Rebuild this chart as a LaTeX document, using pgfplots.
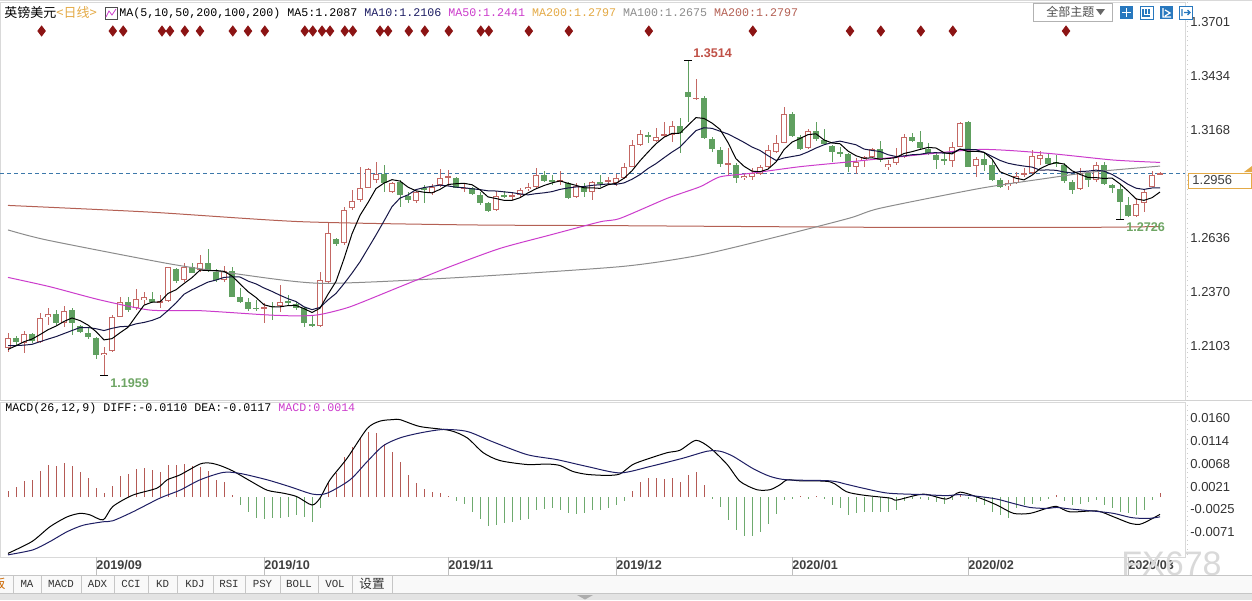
\documentclass[border=0pt]{standalone}
\usepackage{fontspec}
\setmainfont{Liberation Sans}
\setsansfont{Liberation Sans}
\setmonofont{Liberation Mono}
\newfontfamily\cjk{Noto Sans CJK SC}
\usepackage{pgfplots}
\pgfplotsset{compat=1.18}
\usepackage{pgfplotstable}

\definecolor{upc}{RGB}{196,104,100}
\definecolor{dnc}{RGB}{96,160,96}
\definecolor{macdr}{RGB}{180,90,85}
\definecolor{macdg}{RGB}{110,170,110}
\definecolor{ma50}{RGB}{204,60,204}
\definecolor{ma100}{RGB}{140,140,140}
\definecolor{ma200}{RGB}{180,96,84}
\definecolor{gold}{RGB}{228,170,70}
\definecolor{navy}{RGB}{30,30,100}
\definecolor{pricel}{RGB}{60,120,170}
\definecolor{hilab}{RGB}{192,80,70}
\definecolor{lolab}{RGB}{110,165,100}
\definecolor{diam}{RGB}{140,20,20}
\definecolor{tbblue}{RGB}{40,120,190}

% daily candles, x = trading day index (0 = 2019-08-19)
\pgfplotstableread{
i o h l c
0 1.2094 1.2168 1.2074 1.2143
2 1.2120 1.2179 1.2069 1.2163
4 1.2125 1.2265 1.2117 1.2240
5 1.2245 1.2290 1.2207 1.2262
7 1.2216 1.2302 1.2199 1.2278
12 1.2059 1.2100 1.1959 1.2071
13 1.2079 1.2257 1.2076 1.2245
14 1.2248 1.2347 1.2245 1.2322
16 1.2290 1.2383 1.2281 1.2335
17 1.2331 1.2371 1.2306 1.2344
19 1.2319 1.2355 1.2290 1.2326
20 1.2327 1.2495 1.2322 1.2492
22 1.2429 1.2511 1.2421 1.2495
24 1.2478 1.2552 1.2470 1.2514
27 1.2429 1.2498 1.2421 1.2475
32 1.2286 1.2314 1.2216 1.2295
34 1.2302 1.2404 1.2273 1.2322
39 1.2202 1.2470 1.2197 1.2429
40 1.2421 1.2709 1.2413 1.2659
42 1.2610 1.2790 1.2601 1.2774
43 1.2783 1.2873 1.2774 1.2820
44 1.2824 1.2988 1.2815 1.2881
45 1.2884 1.2982 1.2881 1.2976
46 1.2922 1.3012 1.2907 1.2950
48 1.2864 1.2914 1.2856 1.2906
51 1.2820 1.2868 1.2807 1.2861
53 1.2857 1.2901 1.2848 1.2889
54 1.2897 1.2976 1.2889 1.2933
55 1.2933 1.2971 1.2894 1.2942
57 1.2878 1.2906 1.2864 1.2884
61 1.2774 1.2868 1.2771 1.2845
63 1.2840 1.2864 1.2824 1.2848
64 1.2848 1.2881 1.2840 1.2873
65 1.2878 1.2906 1.2868 1.2889
66 1.2889 1.2980 1.2884 1.2947
69 1.2914 1.2967 1.2897 1.2921
71 1.2840 1.2906 1.2835 1.2894
73 1.2864 1.2917 1.2824 1.2911
75 1.2914 1.2938 1.2897 1.2922
76 1.2906 1.2950 1.2893 1.2930
77 1.2930 1.3004 1.2926 1.2988
78 1.2988 1.3119 1.2985 1.3095
79 1.3095 1.3169 1.3090 1.3149
81 1.3116 1.3177 1.3111 1.3136
82 1.3139 1.3209 1.3136 1.3149
83 1.3144 1.3214 1.3111 1.3188
86 1.3325 1.3419 1.3317 1.3328
90 1.2996 1.3078 1.2947 1.3004
92 1.2930 1.2955 1.2922 1.2942
93 1.2935 1.2980 1.2922 1.2955
94 1.2952 1.2996 1.2947 1.2985
95 1.2988 1.3095 1.2980 1.3070
96 1.3062 1.3144 1.3055 1.3103
97 1.3106 1.3281 1.3103 1.3248
100 1.3078 1.3172 1.3074 1.3165
106 1.2985 1.3029 1.2952 1.3012
107 1.3021 1.3040 1.2988 1.3034
108 1.3034 1.3078 1.3029 1.3074
110 1.2985 1.3021 1.2971 1.3001
111 1.3004 1.3078 1.2996 1.3037
112 1.3037 1.3149 1.3029 1.3133
118 1.3017 1.3111 1.2988 1.3083
119 1.3086 1.3209 1.3083 1.3202
121 1.2991 1.3037 1.2938 1.3024
125 1.2891 1.2922 1.2873 1.2908
126 1.2908 1.2963 1.2902 1.2942
127 1.2945 1.2980 1.2938 1.2955
128 1.2955 1.3070 1.2952 1.3040
129 1.3024 1.3066 1.2996 1.3045
134 1.2877 1.2980 1.2873 1.2958
136 1.2922 1.3012 1.2914 1.2996
141 1.2745 1.2832 1.2741 1.2804
142 1.2807 1.2873 1.2767 1.2864
143 1.2889 1.2968 1.2886 1.2947
144 1.2950 1.2962 1.2945 1.2956
}\upcandles

\pgfplotstableread{
i o h l c
1 1.2143 1.2153 1.2104 1.2125
3 1.2163 1.2169 1.2119 1.2130
6 1.2262 1.2281 1.2207 1.2216
8 1.2281 1.2290 1.2158 1.2216
9 1.2202 1.2207 1.2166 1.2174
10 1.2169 1.2195 1.2137 1.2150
11 1.2142 1.2150 1.2038 1.2059
15 1.2322 1.2344 1.2273 1.2281
18 1.2335 1.2371 1.2314 1.2319
21 1.2482 1.2487 1.2413 1.2426
23 1.2495 1.2511 1.2462 1.2465
25 1.2514 1.2580 1.2470 1.2478
26 1.2470 1.2482 1.2421 1.2429
28 1.2475 1.2495 1.2344 1.2347
29 1.2344 1.2388 1.2314 1.2322
30 1.2322 1.2339 1.2278 1.2285
31 1.2293 1.2331 1.2278 1.2285
33 1.2302 1.2322 1.2232 1.2297
35 1.2327 1.2355 1.2306 1.2314
36 1.2311 1.2322 1.2281 1.2290
37 1.2290 1.2297 1.2196 1.2216
38 1.2212 1.2257 1.2199 1.2202
41 1.2631 1.2636 1.2596 1.2605
47 1.2950 1.2996 1.2864 1.2906
49 1.2911 1.2922 1.2791 1.2848
50 1.2845 1.2864 1.2807 1.2824
52 1.2881 1.2897 1.2807 1.2873
56 1.2930 1.2938 1.2881 1.2884
58 1.2881 1.2889 1.2848 1.2851
59 1.2848 1.2864 1.2799 1.2807
60 1.2807 1.2815 1.2766 1.2769
62 1.2848 1.2868 1.2832 1.2840
67 1.2947 1.2967 1.2911 1.2917
68 1.2922 1.2947 1.2897 1.2914
70 1.2906 1.2914 1.2829 1.2832
72 1.2889 1.2906 1.2840 1.2861
74 1.2914 1.2947 1.2889 1.2906
80 1.3144 1.3160 1.3103 1.3136
84 1.3188 1.3226 1.3054 1.3156
85 1.3357 1.3514 1.3209 1.3330
87 1.3325 1.3336 1.3123 1.3128
88 1.3123 1.3133 1.3062 1.3074
89 1.3070 1.3086 1.2988 1.3001
91 1.2996 1.3004 1.2909 1.2930
98 1.3248 1.3259 1.3133 1.3139
99 1.3136 1.3144 1.3070 1.3074
101 1.3165 1.3209 1.3116 1.3123
102 1.3119 1.3172 1.3095 1.3099
103 1.3090 1.3095 1.3012 1.3062
104 1.3062 1.3086 1.3037 1.3054
105 1.3050 1.3054 1.2963 1.2985
109 1.3074 1.3116 1.3012 1.3021
113 1.3133 1.3152 1.3111 1.3116
114 1.3111 1.3165 1.3074 1.3078
115 1.3074 1.3103 1.3045 1.3050
116 1.3045 1.3057 1.2975 1.3021
117 1.3026 1.3062 1.2996 1.3021
120 1.3209 1.3214 1.2985 1.2988
122 1.3024 1.3054 1.2965 1.2996
123 1.2996 1.3021 1.2919 1.2922
124 1.2922 1.2930 1.2881 1.2886
130 1.3029 1.3054 1.2996 1.3001
131 1.3012 1.3045 1.2988 1.3001
132 1.2996 1.3004 1.2906 1.2919
133 1.2914 1.2922 1.2853 1.2873
135 1.2958 1.2963 1.2886 1.2922
137 1.2996 1.3012 1.2897 1.2902
138 1.2897 1.2902 1.2857 1.2881
139 1.2877 1.2897 1.2726 1.2815
140 1.2799 1.2840 1.2738 1.2745
}\dncandles

% MA5, MA10 and MACD histogram per day
\pgfplotstableread{
i m5 m10 m
0 1.2087 1.2106 0.0012
1 1.2105 1.2106 0.0021
2 1.2125 1.2108 0.0032
3 1.2138 1.2112 0.0034
4 1.2160 1.2125 0.0053
5 1.2184 1.2138 0.0065
6 1.2202 1.2150 0.0063
7 1.2225 1.2165 0.0070
8 1.2242 1.2180 0.0063
9 1.2229 1.2195 0.0051
10 1.2207 1.2195 0.0038
11 1.2175 1.2189 0.0019
12 1.2134 1.2180 0.0009
13 1.2140 1.2191 0.0023
14 1.2169 1.2199 0.0043
15 1.2196 1.2201 0.0047
16 1.2251 1.2213 0.0057
17 1.2305 1.2220 0.0059
18 1.2320 1.2230 0.0055
19 1.2321 1.2245 0.0051
20 1.2363 1.2279 0.0066
21 1.2381 1.2316 0.0065
22 1.2412 1.2359 0.0068
23 1.2441 1.2381 0.0063
24 1.2478 1.2400 0.0061
25 1.2476 1.2419 0.0053
26 1.2476 1.2429 0.0034
27 1.2472 1.2442 0.0030
28 1.2449 1.2445 0.0005
29 1.2410 1.2444 -0.0016
30 1.2372 1.2424 -0.0030
31 1.2343 1.2410 -0.0042
32 1.2307 1.2390 -0.0045
33 1.2297 1.2373 -0.0043
34 1.2297 1.2354 -0.0042
35 1.2303 1.2337 -0.0040
36 1.2304 1.2323 -0.0036
37 1.2288 1.2297 -0.0040
38 1.2269 1.2283 -0.0051
39 1.2290 1.2294 -0.0022
40 1.2359 1.2331 0.0028
41 1.2422 1.2363 0.0048
42 1.2534 1.2411 0.0082
43 1.2657 1.2463 0.0102
44 1.2748 1.2519 0.0119
45 1.2811 1.2585 0.0132
46 1.2880 1.2651 0.0129
47 1.2907 1.2720 0.0107
48 1.2924 1.2791 0.0092
49 1.2917 1.2833 0.0071
50 1.2887 1.2849 0.0045
51 1.2869 1.2875 0.0028
52 1.2862 1.2885 0.0017
53 1.2859 1.2891 0.0010
54 1.2876 1.2897 0.0008
55 1.2900 1.2893 0.0003
56 1.2904 1.2887 -0.0007
57 1.2906 1.2884 -0.0014
58 1.2899 1.2879 -0.0030
59 1.2874 1.2875 -0.0044
60 1.2839 1.2869 -0.0059
61 1.2831 1.2868 -0.0057
62 1.2822 1.2864 -0.0053
63 1.2822 1.2860 -0.0051
64 1.2835 1.2854 -0.0047
65 1.2859 1.2849 -0.0044
66 1.2879 1.2855 -0.0027
67 1.2895 1.2859 -0.0024
68 1.2908 1.2865 -0.0022
69 1.2918 1.2876 -0.0027
70 1.2906 1.2883 -0.0032
71 1.2896 1.2888 -0.0034
72 1.2884 1.2890 -0.0032
73 1.2884 1.2896 -0.0027
74 1.2881 1.2899 -0.0026
75 1.2899 1.2903 -0.0022
76 1.2906 1.2901 -0.0017
77 1.2931 1.2908 -0.0007
78 1.2968 1.2926 0.0012
79 1.3017 1.2949 0.0030
80 1.3060 1.2979 0.0039
81 1.3101 1.3003 0.0039
82 1.3133 1.3032 0.0037
83 1.3152 1.3060 0.0039
84 1.3153 1.3085 0.0030
85 1.3192 1.3126 0.0044
86 1.3230 1.3166 0.0051
87 1.3226 1.3180 0.0025
88 1.3203 1.3177 -0.0003
89 1.3172 1.3163 -0.0020
90 1.3107 1.3149 -0.0047
91 1.3027 1.3129 -0.0066
92 1.2990 1.3108 -0.0078
93 1.2966 1.3085 -0.0078
94 1.2963 1.3068 -0.0071
95 1.2976 1.3042 -0.0054
96 1.3011 1.3019 -0.0034
97 1.3072 1.3031 -0.0005
98 1.3109 1.3038 -0.0003
99 1.3127 1.3045 0.0002
100 1.3146 1.3061 -0.0003
101 1.3150 1.3080 0.0003
102 1.3120 1.3096 -0.0004
103 1.3105 1.3107 -0.0016
104 1.3101 1.3114 -0.0023
105 1.3065 1.3105 -0.0036
106 1.3042 1.3096 -0.0033
107 1.3029 1.3075 -0.0030
108 1.3032 1.3068 -0.0030
109 1.3025 1.3063 -0.0030
110 1.3028 1.3047 -0.0031
111 1.3033 1.3038 -0.0026
112 1.3053 1.3041 -0.0008
113 1.3062 1.3047 -0.0004
114 1.3073 1.3049 -0.0003
115 1.3083 1.3056 -0.0006
116 1.3080 1.3057 -0.0009
117 1.3057 1.3055 -0.0013
118 1.3051 1.3056 -0.0006
119 1.3075 1.3074 0.0005
120 1.3063 1.3073 -0.0003
121 1.3064 1.3072 -0.0009
122 1.3059 1.3058 -0.0016
123 1.3026 1.3039 -0.0030
124 1.2963 1.3019 -0.0036
125 1.2947 1.3005 -0.0042
126 1.2931 1.2997 -0.0023
127 1.2923 1.2991 -0.0016
128 1.2946 1.2986 -0.0013
129 1.2978 1.2971 -0.0008
130 1.2997 1.2972 -0.0003
131 1.3008 1.2970 0.0004
132 1.3001 1.2962 -0.0008
133 1.2968 1.2957 -0.0016
134 1.2950 1.2964 -0.0013
135 1.2935 1.2966 -0.0009
136 1.2934 1.2971 -0.0006
137 1.2930 1.2966 -0.0016
138 1.2932 1.2950 -0.0023
139 1.2903 1.2927 -0.0030
140 1.2868 1.2901 -0.0033
141 1.2829 1.2882 -0.0036
142 1.2822 1.2876 -0.0026
143 1.2835 1.2883 -0.0006
144 1.2863 1.2883 0.0009
}\matab

\pgfplotsset{
  rlabels/.style={
    yticklabel pos=right, major tick length=0pt, scaled y ticks=false,
    yticklabel style={font=\fontsize{6.5}{7}\selectfont, text=black!80, anchor=west, inner sep=0pt, xshift=2.5pt,
      /pgf/number format/fixed, /pgf/number format/fixed zerofill,
      /pgf/number format/precision=4, /pgf/number format/assume math mode=true},
  },
  % error bars only, no line and no marker: #1 colour, #2 width
  candle/.style 2 args={draw=none, mark=none, forget plot,
    error bars/.cd, y dir=both, y explicit, error mark=none,
    error bar style={draw=#1, solid, line width=#2}},
}

\begin{document}
\begin{tikzpicture}
\fill[white] (0,0) rectangle (626pt,-300pt);

% ---------------- price panel ----------------
\begin{axis}[
  at={(0pt,-200pt)}, anchor=south west,
  scale only axis, width=592.5pt, height=199pt,
  xmin=-1, xmax=147.125, ymin=1.18375, ymax=1.3800,
  axis line style={gray!30, line width=0.4pt},
  xtick=\empty,
  ytick={1.2103,1.2370,1.2636,1.3168,1.3434,1.3701},
  rlabels,
]
\addplot[pricel, line width=0.45pt, dash pattern=on 2pt off 1.5pt] coordinates {(-1,1.2956) (147.125,1.2956)};

% up candles: wick, red body, white inside
\addplot[candle={upc}{0.5pt}]
  table[x=i, y expr={(\thisrow{h}+\thisrow{l})/2}, y error expr={(\thisrow{h}-\thisrow{l})/2}] \upcandles;
\addplot[candle={upc}{3.25pt}]
  table[x=i, y expr={(\thisrow{o}+\thisrow{c})/2}, y error expr={max(abs(\thisrow{c}-\thisrow{o})/2,0.00025)}] \upcandles;
\addplot[candle={white}{2.25pt}]
  table[x=i, y expr={(\thisrow{o}+\thisrow{c})/2}, y error expr={max(abs(\thisrow{c}-\thisrow{o})/2-0.0005,0)}] \upcandles;
% down candles
\addplot[candle={dnc}{0.5pt}]
  table[x=i, y expr={(\thisrow{h}+\thisrow{l})/2}, y error expr={(\thisrow{h}-\thisrow{l})/2}] \dncandles;
\addplot[candle={dnc}{3.25pt}]
  table[x=i, y expr={(\thisrow{o}+\thisrow{c})/2}, y error expr={max(abs(\thisrow{c}-\thisrow{o})/2,0.00025)}] \dncandles;

% long moving averages
\addplot[ma200, line width=0.5pt, smooth, tension=0.4] coordinates {
  (0,1.2797) (17.75,1.2764) (36.5,1.2717) (57.4,1.2701) (76.5,1.2697) (109,1.2689) (135,1.2689) (144,1.2693)};
\addplot[ma100, line width=0.5pt, smooth, tension=0.4] coordinates {
  (0,1.2676) (4.9,1.2626) (19.9,1.2511) (28.1,1.2462) (39,1.2413) (55.25,1.2439) (76.5,1.2495) (86.5,1.2552)
  (96.5,1.2646) (105.25,1.2735) (109,1.2783) (121.5,1.2881) (129.9,1.2931) (135.6,1.2962) (144,1.2991)};
\addplot[ma50, line width=0.5pt, smooth, tension=0.4] coordinates {
  (0,1.2442) (5.25,1.2396) (11.5,1.2331) (17.75,1.2281) (24,1.2278) (32.4,1.2257) (36.5,1.2252) (39,1.2259)
  (42.75,1.2297) (49,1.2396) (55.25,1.2495) (61.5,1.2585) (67.75,1.2651) (74,1.2716) (76.5,1.2733)
  (82.4,1.2832) (86.5,1.2889) (89,1.2938) (92.75,1.2955) (99,1.2988) (105.25,1.3012) (111.5,1.3037)
  (121.5,1.3073) (129.9,1.3054) (138.1,1.3021) (144,1.3009)};
% short moving averages
\addplot[navy!70!black, line width=0.5pt] table[x=i, y=m10] \matab;
\addplot[black, line width=0.5pt] table[x=i, y=m5] \matab;

% signal diamonds
\addplot[only marks, mark=diamond*, mark size=2.5pt, mark options={fill=diam, draw=diam}] coordinates {
  (4.2,1.3657) (13.1,1.3657) (14.4,1.3657) (19.25,1.3657) (20.25,1.3657) (22.1,1.3657) (24,1.3657)
  (28.1,1.3657) (30,1.3657) (32.1,1.3657) (37.1,1.3657) (38.1,1.3657) (39.25,1.3657) (40.25,1.3657)
  (42.1,1.3657) (43.1,1.3657) (46.5,1.3657) (47.5,1.3657) (50.1,1.3657) (52.1,1.3657) (55.1,1.3657)
  (59.1,1.3657) (60.1,1.3657) (65.1,1.3657) (70.1,1.3657) (80.1,1.3657) (93.1,1.3657) (105.25,1.3657)
  (109.1,1.3657) (114.1,1.3657) (118.1,1.3657) (132.25,1.3657)};
% extreme points
\addplot[only marks, mark=-, mark size=2pt, black, line width=0.5pt] coordinates {(85,1.3514) (12,1.1959) (139,1.2726)};
\node[anchor=south west, inner sep=0pt, xshift=2.5pt, yshift=1pt, text=hilab, font=\bfseries\fontsize{6.3}{7}\selectfont] at (axis cs:85,1.3514) {1.3514};
\node[anchor=north west, inner sep=0pt, xshift=3pt, yshift=-1.5pt, text=lolab, font=\bfseries\fontsize{6.3}{7}\selectfont] at (axis cs:12,1.1959) {1.1959};
\node[anchor=north west, inner sep=0pt, xshift=3pt, yshift=-1pt, text=lolab, font=\bfseries\fontsize{6.3}{7}\selectfont] at (axis cs:139,1.2726) {1.2726};
\end{axis}

% ---------------- MACD panel ----------------
\begin{axis}[
  at={(0pt,-278.5pt)}, anchor=south west,
  scale only axis, width=592.5pt, height=77.5pt,
  xmin=-1, xmax=147.125, ymin=-0.01214, ymax=0.01927,
  axis line style={gray!30, line width=0.4pt},
  ytick={0.0160,0.0114,0.0068,0.0021,-0.0025,-0.0071},
  rlabels,
  xtick={11,32,55,76,98,120,140},
  xticklabels={2019/09,2019/10,2019/11,2019/12,2020/01,2020/02,2020/03},
  xticklabel style={font=\bfseries\fontsize{6.3}{7}\selectfont, text=black!75, anchor=north west, inner sep=0pt, yshift=-1.5pt},
]
\addplot[ycomb, macdr, line width=0.5pt, no marks] table[x=i, y expr={max(\thisrow{m},0)}] \matab;
\addplot[ycomb, macdg, line width=0.5pt, no marks] table[x=i, y expr={min(\thisrow{m},0)}] \matab;
% DIFF
\addplot[black, line width=0.5pt, smooth, tension=0.45] coordinates {
  (0,-0.0114) (3,-0.0090) (5.25,-0.0060) (7.4,-0.0040) (9,-0.0033) (10.25,-0.0036) (11.9,-0.0046)
  (13.1,-0.0019) (15.6,0.0004) (18.6,0.0018) (19.9,0.0035) (21.5,0.0045) (24,0.0067) (25.25,0.0069)
  (26.5,0.0064) (28.1,0.0053) (30.25,0.0033) (32.4,0.0014) (34.4,0.0008) (36.1,0.0001) (38,-0.0016)
  (39,-0.0002) (40.25,0.0035) (42.4,0.0079) (44.9,0.0139) (46.5,0.0154) (48.1,0.0157)
  (49,0.0157) (51.5,0.0143) (55.25,0.0135) (57.4,0.0120) (59.4,0.0090) (61.5,0.0074) (64.9,0.0066)
  (67.4,0.0067) (69,0.0064) (70.6,0.0052) (72.4,0.0046) (74.9,0.0044) (76.5,0.0047) (78.1,0.0066)
  (79.9,0.0077) (82.4,0.0090) (84,0.0095) (86,0.0115) (87.75,0.0100) (89.9,0.0066) (91.5,0.0032)
  (93.6,0.0015) (95.25,0.0015) (96.5,0.0025) (97.4,0.0035) (99,0.0033) (102.75,0.0031)
  (104.8,0.0011) (106.9,0.0004) (110.25,-0.0002) (111.1,-0.0006) (114.4,0.0006) (117.3,-0.0004)
  (119,0.0010) (121.5,-0.0002) (123.6,-0.0016) (125.7,-0.0033) (127.75,-0.0033) (129.8,-0.0023)
  (131.1,-0.0019) (132.75,-0.0030) (136.1,-0.0028) (138.2,-0.0040) (140.25,-0.0053) (141.5,-0.0055)
  (142.75,-0.0046) (144,-0.0035)};
% DEA
\addplot[navy, line width=0.5pt, smooth, tension=0.45] coordinates {
  (0,-0.0117) (3.1,-0.0107) (5.25,-0.0090) (7.4,-0.0070) (9.4,-0.0057) (11.9,-0.0050) (13.1,-0.0048)
  (15.6,-0.0030) (19,-0.0002) (21.5,0.0014) (24,0.0035) (26.9,0.0050) (29,0.0048) (32.4,0.0035)
  (35.25,0.0021) (38.1,0.0006) (39.9,0.0008) (42.75,0.0035) (44.9,0.0072) (46.9,0.0104) (49,0.0120)
  (51.5,0.0130) (54.4,0.0137) (57.4,0.0133) (60.6,0.0112) (64.9,0.0086) (68.6,0.0076) (72.4,0.0062)
  (76.5,0.0049) (80.25,0.0062) (84.4,0.0079) (87.4,0.0093) (89,0.0093) (90.6,0.0083) (93.1,0.0058)
  (95.25,0.0042) (97.4,0.0035) (102.75,0.0033) (104.8,0.0026) (106.9,0.0018)
  (110,0.0008) (114.4,0.0005) (117.3,0.0003) (119,0.0005) (121.5,0.0001) (123.6,-0.0004) (125.7,-0.0013)
  (127.75,-0.0021) (129.8,-0.0023) (131.1,-0.0021) (132.75,-0.0024) (136.1,-0.0029) (138.2,-0.0033)
  (140.25,-0.0041) (141.5,-0.0043) (142.75,-0.0043) (144,-0.0040)};
\end{axis}

% ---------------- window chrome (pixel units) ----------------
\begin{scope}[x=0.5pt, y=-0.5pt]
\draw[gray!30] (0,0.5) -- (1252,0.5);
\draw[gray!35] (0,400.5) -- (1252,400.5);
\draw[gray!40, dotted] (1187,2) -- (1187,557);
\foreach \t in {96,264,448,616,792,968,1128} \draw[gray!50] (\t,557) -- (\t,575);
% header
\node[anchor=west, inner sep=0pt, font=\cjk\fontsize{6.5}{7}\selectfont] at (4,13) {英镑美元};
\node[anchor=west, inner sep=0pt, text=gold, font=\cjk\fontsize{6.5}{7}\selectfont] at (56,13) {<日线>};
\draw[black!70, fill=white] (105,7) rectangle (117,19);
\draw[ma50, line width=0.4pt] (106,17) -- (109,11) -- (112,15) -- (116,9);
\node[anchor=west, inner sep=0pt, font=\ttfamily\fontsize{5.83}{7}\selectfont] at (119,13)
  {MA(5,10,50,200,100,200) MA5:1.2087 \textcolor{navy}{MA10:1.2106} \textcolor{ma50}{MA50:1.2441} \textcolor{gold}{MA200:1.2797} \textcolor{ma100}{MA100:1.2675} \textcolor{ma200}{MA200:1.2797}};
\node[anchor=west, inner sep=0pt, font=\ttfamily\fontsize{5.83}{7}\selectfont] at (5,408)
  {MACD(26,12,9) DIFF:-0.0110 DEA:-0.0117 \textcolor{ma50}{MACD:0.0014}};
% toolbar top right
\draw[gray!60, fill=white] (1033,3) rectangle (1112,21);
\node[anchor=west, inner sep=0pt, text=black!70, font=\cjk\fontsize{6}{7}\selectfont] at (1046,12) {全部主题};
\fill[black!60] (1096,9) -- (1105,9) -- (1100.5,15) -- cycle;
\fill[tbblue] (1120,6) rectangle (1133,19);
\draw[white, line width=0.6pt] (1126.5,8) -- (1126.5,17) (1122,12.5) -- (1131,12.5);
\draw[tbblue, fill=white] (1140,6) rectangle (1153,19);
\draw[tbblue, line width=0.6pt] (1143,9) -- (1143,16) -- (1150,16) (1146,9) -- (1146,14) (1149,9) -- (1149,14);
\fill[tbblue] (1160,6) rectangle (1173,19);
\draw[white, line width=0.6pt] (1163,8) -- (1163,17) -- (1171,17) (1165,10) -- (1170,13) -- (1165,16);
\draw[tbblue, fill=white] (1179,6) rectangle (1192,19);
\draw[tbblue, line width=0.6pt] (1182,9) -- (1182,16) (1184,12.5) -- (1190,12.5) (1187.5,10) -- (1190,12.5) -- (1187.5,15);
% current price box
\draw[gold, fill=white, line width=0.5pt] (1188,173) rectangle (1251,188);
\node[anchor=west, inner sep=0pt, text=black!75, font=\fontsize{6.5}{7}\selectfont] at (1192,180.5) {1.2956};
\fill[gold] (1244,172) -- (1252,166) -- (1252,172) -- cycle;
% watermark
\node[anchor=west, inner sep=0pt, text=gray!30, font=\fontsize{17}{18}\selectfont] at (1121,564) {FX678};
% tab bar
\fill[gray!5] (0,575) rectangle (1252,593);
\draw[gray!45] (0,575) -- (1252,575) (0,593) -- (1252,593);
\foreach \t in {13,41,81,114,148,177,213,245,280,318,352,392} \draw[gray!45] (\t,575) -- (\t,593);
\node[anchor=east, inner sep=0pt, text=orange!80!black, font=\cjk\fontsize{6.3}{7}\selectfont] at (6,584) {板};
\foreach \a/\b/\s in {13/41/MA, 41/81/MACD, 81/114/ADX, 114/148/CCI, 148/177/KD, 177/213/KDJ, 213/245/RSI, 245/280/PSY, 280/318/BOLL, 318/352/VOL}
  \node[inner sep=0pt, text=black!80, font=\ttfamily\fontsize{5.4}{6}\selectfont] at ({(\a+\b)/2},584) {\s};
\node[inner sep=0pt, text=black!80, font=\cjk\fontsize{6.3}{7}\selectfont] at (372,584) {设置};
\fill[gray!22] (0,594) rectangle (1252,600);
\fill[gray!65] (577,595) -- (593,595) -- (585,599.5) -- cycle;
\end{scope}

\pgfresetboundingbox
\path[use as bounding box] (0,0) rectangle (626pt,-300pt);
\end{tikzpicture}
\end{document}
